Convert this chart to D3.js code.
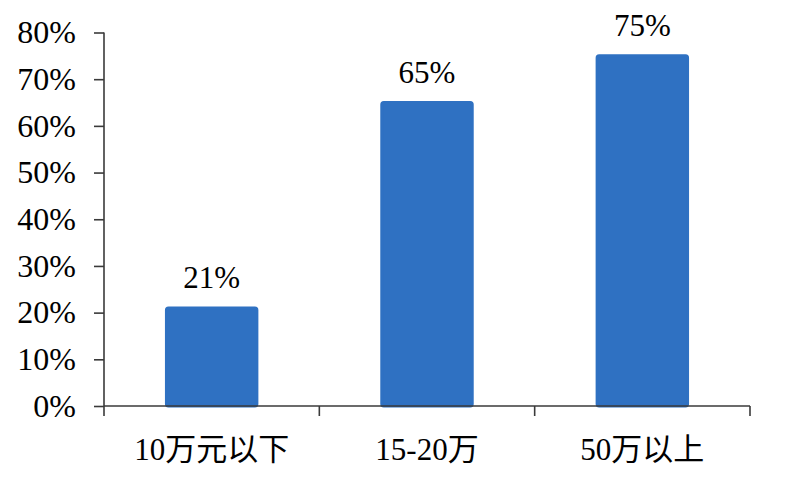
<!DOCTYPE html>
<html>
<head>
<meta charset="utf-8">
<script src="https://cdn.jsdelivr.net/npm/d3@7"></script>
<style>
  body { margin: 0; background: #fff; }
  svg { display: block; }
  text { font-family: "Liberation Serif", "Times New Roman", "Noto Sans CJK SC", serif; fill: #000; }
</style>
</head>
<body>
<svg id="chart" width="800" height="483"></svg>
<script>
const categories = ["10万元以下", "15-20万", "50万以上"];
const values = [0.21, 0.65, 0.75];
const valueLabels = ["21%", "65%", "75%"];
const yTicks = [0, 0.1, 0.2, 0.3, 0.4, 0.5, 0.6, 0.7, 0.8];

const W = 800, H = 483;
const margin = { top: 32.5, right: 50, bottom: 77, left: 104 };
const svg = d3.select("#chart");

const x = d3.scaleBand()
  .domain(categories)
  .range([margin.left, W - margin.right])
  .paddingInner(0.58)
  .paddingOuter(0.29);

const y = d3.scaleLinear()
  .domain([0, 0.8])
  .range([H - margin.bottom, margin.top]);

const axisColor = "#3a3a3a";
const barColor = "#2F71C2";
const fs = 31;

// bars
svg.append("g").selectAll("rect")
  .data(values)
  .join("rect")
  .attr("x", (d, i) => x(categories[i]))
  .attr("y", d => y(d))
  .attr("width", x.bandwidth())
  .attr("height", d => y(0) - y(d))
  .attr("rx", 2)
  .attr("fill", barColor)
  .attr("stroke", barColor)
  .attr("stroke-width", 3)
  .attr("stroke-linejoin", "round");

// value labels
svg.append("g").selectAll("text")
  .data(values)
  .join("text")
  .attr("x", (d, i) => x(categories[i]) + x.bandwidth() / 2)
  .attr("y", d => y(d) - 20)
  .attr("text-anchor", "middle")
  .attr("font-size", fs)
  .text((d, i) => valueLabels[i]);

// y axis
const yAxis = svg.append("g")
  .attr("transform", `translate(${margin.left},0)`)
  .call(d3.axisLeft(y).tickValues(yTicks).tickFormat(d3.format(".0%")).tickSize(10).tickPadding(18));
yAxis.select(".domain").attr("stroke", axisColor).attr("stroke-width", 1.6).attr("d", `M0,${y(0.8)}V${y(0)}`);
yAxis.selectAll(".tick line").attr("stroke", axisColor).attr("stroke-width", 1.6);
yAxis.selectAll(".tick text")
  .attr("font-size", 32)
  .attr("font-family", "Liberation Serif, serif")
  .attr("fill", "#000");

// x axis
const x0 = x.range()[0], step = x.step();
const xAxis = svg.append("g")
  .attr("transform", `translate(0,${y(0)})`)
  .call(d3.axisBottom(x).tickSize(0).tickPadding(0));
xAxis.select(".domain").attr("stroke", axisColor).attr("stroke-width", 1.6).attr("d", `M${x0},0H${x.range()[1]}`);
xAxis.selectAll(".tick text")
  .attr("font-size", fs)
  .attr("font-family", "Liberation Serif, Noto Sans CJK SC, serif")
  .attr("fill", "#000")
  .attr("dy", 0)
  .attr("y", 54);
xAxis.append("g").selectAll("line")
  .data(d3.range(categories.length + 1))
  .join("line")
  .attr("x1", i => x0 + i * step)
  .attr("x2", i => x0 + i * step)
  .attr("y1", 0)
  .attr("y2", 10)
  .attr("stroke", axisColor)
  .attr("stroke-width", 1.6);
</script>
</body>
</html>
